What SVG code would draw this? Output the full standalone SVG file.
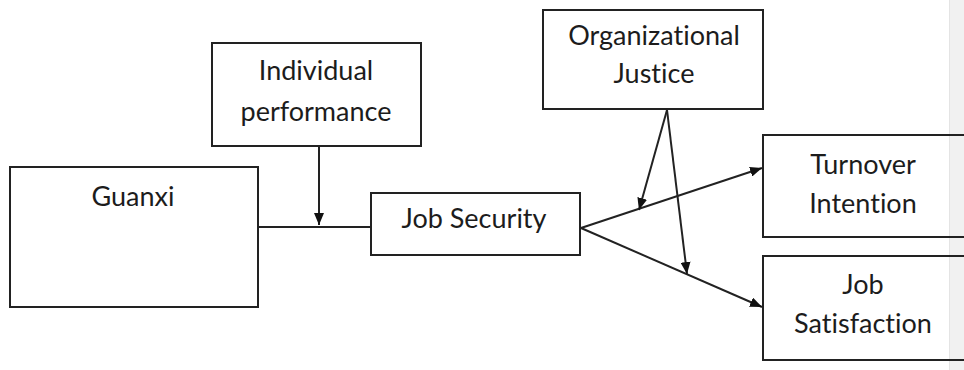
<svg xmlns="http://www.w3.org/2000/svg" width="964" height="370" viewBox="0 0 964 370">
  <style>
    .box { fill: none; stroke: #222; stroke-width: 2; }
    .lbl { font-family: Lato, "Open Sans", "Liberation Sans", sans-serif; font-size: 27px; fill: #1c1c1c; text-anchor: middle; font-variant-ligatures: none; }
    .edge { stroke: #222; stroke-width: 2; fill: none; }
  </style>
  <defs>
    <marker id="arrow" viewBox="0 0 12 10" refX="12" refY="5" markerWidth="12" markerHeight="10" markerUnits="userSpaceOnUse" orient="auto">
      <path d="M0,0 L12,5 L0,10 Z" fill="#111"/>
    </marker>
  </defs>

  <!-- page background and scrollbar strip on the right -->
  <rect x="0" y="0" width="964" height="370" fill="#ffffff"/>
  <rect x="949" y="0" width="15" height="370" fill="#f1f1f1"/>
  <line x1="949.5" y1="0" x2="949.5" y2="370" stroke="#e4e4e4" stroke-width="1"/>

  <g id="guanxi">
    <rect class="box" x="10" y="167" width="248" height="140"/>
    <text class="lbl" x="133" y="206">Guanxi</text>
  </g>

  <g id="individual-performance">
    <rect class="box" x="212" y="43" width="209" height="103"/>
    <text class="lbl" x="316" y="80">Individual</text>
    <text class="lbl" x="316" y="121">performance</text>
  </g>

  <g id="job-security">
    <rect class="box" x="371" y="193" width="209" height="62"/>
    <text class="lbl" x="474" y="228">Job Security</text>
  </g>

  <g id="organizational-justice">
    <rect class="box" x="543" y="10" width="220" height="99"/>
    <text class="lbl" x="654" y="45">Organizational</text>
    <text class="lbl" x="654" y="83">Justice</text>
  </g>

  <g id="turnover-intention">
    <rect class="box" x="763" y="135" width="230" height="102"/>
    <text class="lbl" x="863" y="174">Turnover</text>
    <text class="lbl" x="863" y="213">Intention</text>
  </g>

  <g id="job-satisfaction">
    <rect class="box" x="763" y="256" width="230" height="104"/>
    <text class="lbl" x="863" y="294">Job</text>
    <text class="lbl" x="863" y="333">Satisfaction</text>
  </g>

  <g id="connectors">
    <line class="edge" x1="258" y1="227" x2="371" y2="227"/>
    <line class="edge" x1="319" y1="146" x2="319" y2="225" marker-end="url(#arrow)"/>
    <line class="edge" x1="581" y1="228" x2="762" y2="168" marker-end="url(#arrow)"/>
    <line class="edge" x1="581" y1="228" x2="762" y2="307" marker-end="url(#arrow)"/>
    <line class="edge" x1="667" y1="110" x2="639" y2="210" marker-end="url(#arrow)"/>
    <line class="edge" x1="667" y1="110" x2="687" y2="274" marker-end="url(#arrow)"/>
  </g>
</svg>
